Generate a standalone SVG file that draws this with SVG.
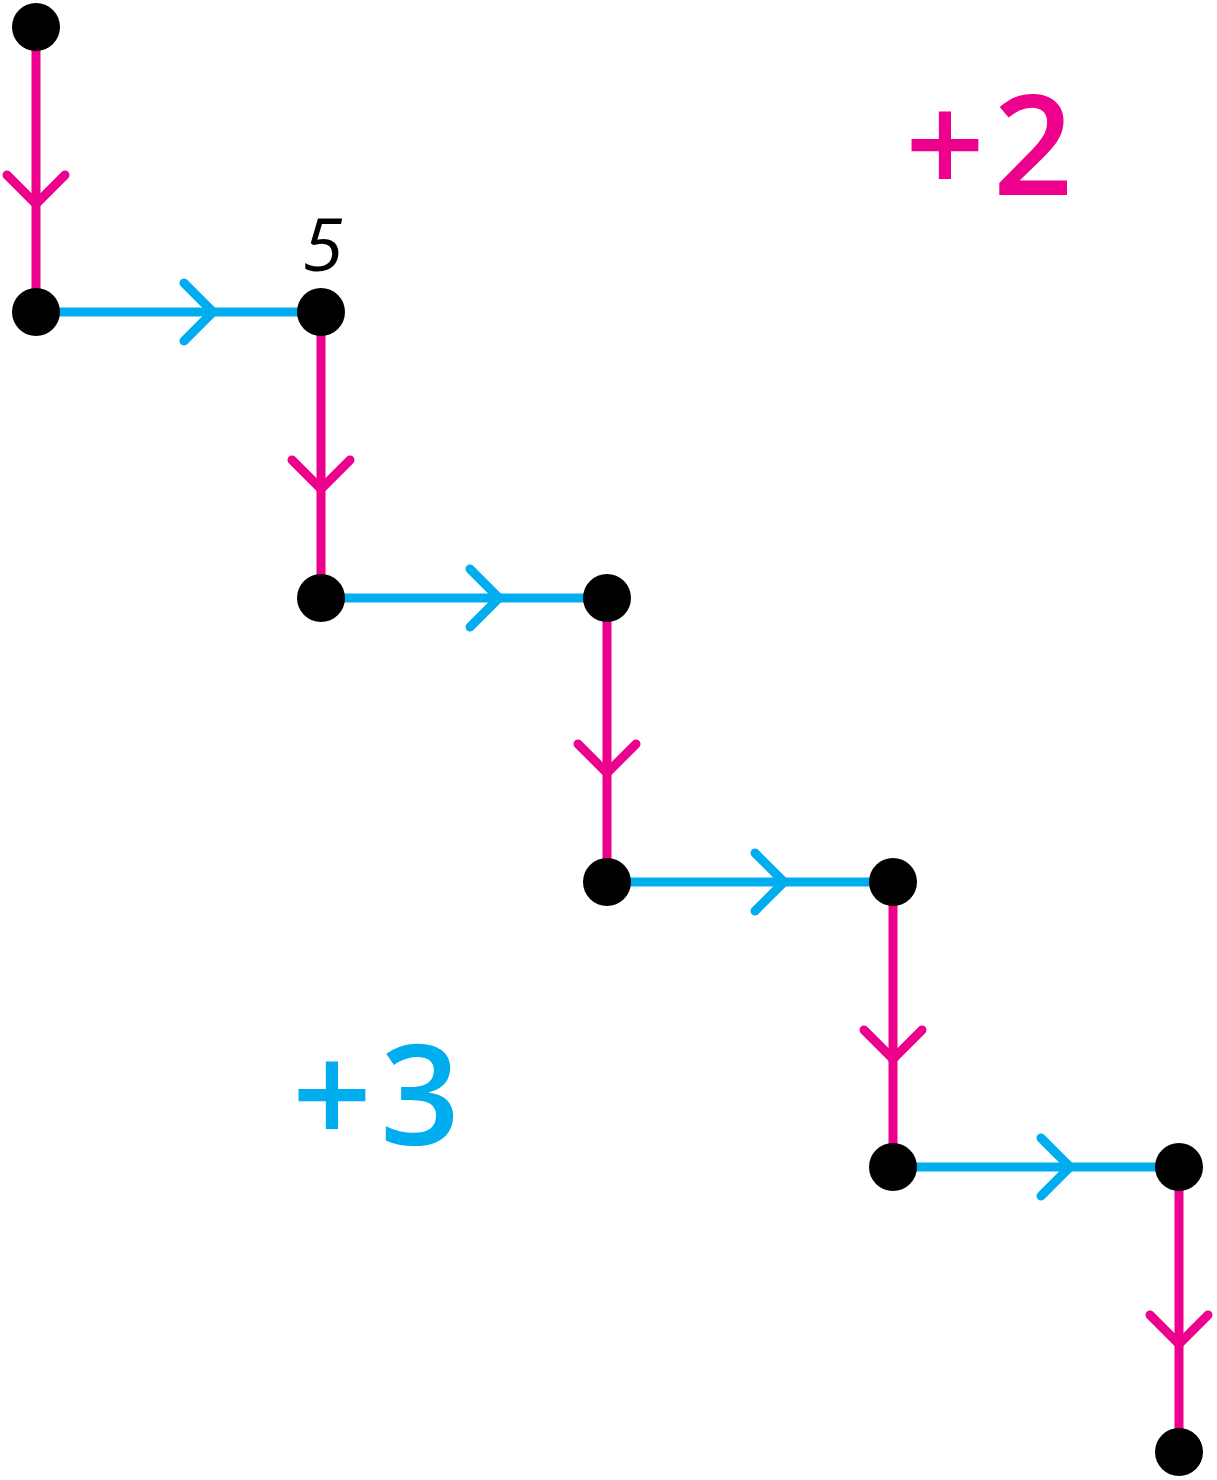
<svg xmlns="http://www.w3.org/2000/svg" width="1217" height="1480" viewBox="0 0 1217 1480">
<style>
.pk{stroke:#EC008C;stroke-width:9;fill:none;stroke-linecap:round;stroke-linejoin:round}
.bl{stroke:#00AEEF;stroke-width:9;fill:none;stroke-linecap:round;stroke-linejoin:round}
.pk-e{marker-mid:url(#mpk)}
.bl-e{marker-mid:url(#mbl)}
.node{fill:#000}
.big{font-family:"Open Sans","Liberation Sans",sans-serif;font-weight:600;font-size:140px;letter-spacing:8px}
.num{font-family:"Open Sans","Liberation Sans",sans-serif;font-weight:normal;font-style:italic;font-size:74px}
</style>
<defs>
<marker id="mpk" markerUnits="userSpaceOnUse" viewBox="-40 -40 80 80" markerWidth="80" markerHeight="80" refX="0" refY="0" orient="auto" overflow="visible">
<path d="M-29,-29 L0,0 L-29,29" fill="none" stroke="#EC008C" stroke-width="9" stroke-linecap="round" stroke-linejoin="round"/>
</marker>
<marker id="mbl" markerUnits="userSpaceOnUse" viewBox="-40 -40 80 80" markerWidth="80" markerHeight="80" refX="0" refY="0" orient="auto" overflow="visible">
<path d="M-29,-29 L0,0 L-29,29" fill="none" stroke="#00AEEF" stroke-width="9" stroke-linecap="round" stroke-linejoin="round"/>
</marker>
</defs>
<g id="connectors">
<path class="pk pk-e" d="M36 27 L36 204 L36 312"/>
<path class="bl bl-e" d="M36 312 L213 312 L321 312"/>
<path class="pk pk-e" d="M321 312 L321 489 L321 598"/>
<path class="bl bl-e" d="M321 598 L499 598 L607 598"/>
<path class="pk pk-e" d="M607 598 L607 773 L607 882"/>
<path class="bl bl-e" d="M607 882 L784 882 L893 882"/>
<path class="pk pk-e" d="M893 882 L893 1059 L893 1167"/>
<path class="bl bl-e" d="M893 1167 L1070 1167 L1179 1167"/>
<path class="pk pk-e" d="M1179 1167 L1179 1344 L1179 1452"/>
</g>
<g id="n1"><circle class="node" cx="36" cy="27" r="24"/></g>
<g id="n2"><circle class="node" cx="36" cy="312" r="24"/></g>
<g id="n3"><circle class="node" cx="321" cy="312" r="24"/><text class="num" x="323" y="271" text-anchor="middle" fill="#000">5</text></g>
<g id="n4"><circle class="node" cx="321" cy="598" r="24"/></g>
<g id="n5"><circle class="node" cx="607" cy="598" r="24"/></g>
<g id="n6"><circle class="node" cx="607" cy="882" r="24"/></g>
<g id="n7"><circle class="node" cx="893" cy="882" r="24"/></g>
<g id="n8"><circle class="node" cx="893" cy="1167" r="24"/></g>
<g id="n9"><circle class="node" cx="1179" cy="1167" r="24"/></g>
<g id="n10"><circle class="node" cx="1179" cy="1452" r="24"/></g>
<g id="labels">
<text class="big" x="905" y="195" fill="#EC008C">+2</text>
<text class="big" x="292" y="1145" fill="#00AEEF">+3</text>
</g>
</svg>
